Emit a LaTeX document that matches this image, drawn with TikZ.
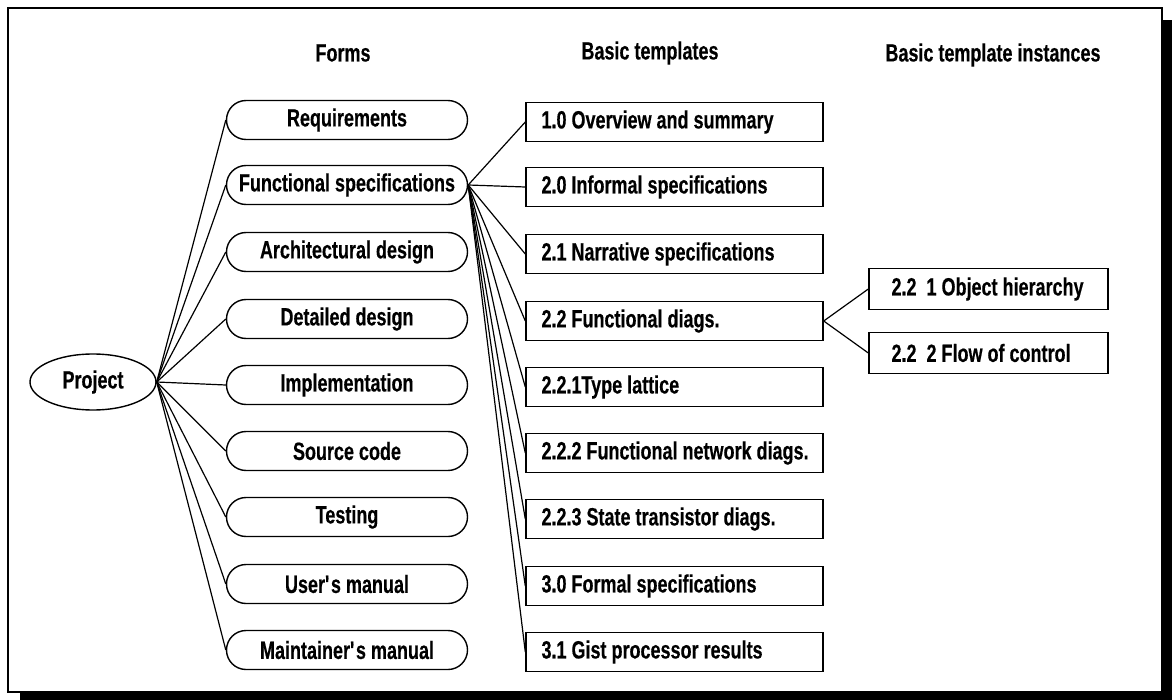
\documentclass[tikz,border=0pt]{standalone}
\usepackage{fontspec}
\setmainfont[FakeStretch=0.72, BoldFeatures={FakeBold=0.3}]{Liberation Sans}
\usepackage{tikz}
\usetikzlibrary{shapes.geometric,shapes.misc}

\tikzset{
	lbl/.style={font=\bfseries\fontsize{12.5}{14}\selectfont},
	form/.style={lbl, draw, rounded rectangle, minimum width=120.5pt, minimum height=19.5pt, inner sep=0pt},
	tmpl/.style={lbl, draw, rectangle, minimum width=148.5pt, minimum height=19.5pt, inner sep=0pt},
	inst/.style={lbl, draw, rectangle, minimum width=119.5pt, minimum height=20.5pt, inner sep=0pt},
	link/.style={line width=0.6pt}
}
\newcommand{\tline}[1]{\makebox[133pt][l]{#1}}
\newcommand{\iline}[1]{\makebox[97pt][l]{#1}}

\begin{document}
\begin{tikzpicture}[x=0.5pt, y=-0.5pt, line width=0.7pt]
				\useasboundingbox (0, 0) rectangle (1172, 700);
				\draw[line width=1pt] (8, 8) rectangle (1162, 692);
				\fill (1162, 20) rectangle (1172, 700);
				\fill (20, 692) rectangle (1172, 700);
				% headings
				\node[lbl] (hforms) at (343, 53) {Forms};
				\node[lbl] (hbasic) at (650, 53) {Basic templates};
				\node[lbl] (hinst) at (993, 55) {Basic template instances};
				% project
				\node[lbl, draw, ellipse, minimum width=63pt, minimum height=28pt, inner sep=0pt] (project) at (93, 382) {Project};
				% forms
				\node[form] (req) at (347, 120) {Requirements};
				\node[form] (func) at (347, 185) {Functional specifications};
				\node[form] (arch) at (347, 252) {Architectural design};
				\node[form] (det) at (347, 319) {Detailed design};
				\node[form] (impl) at (347, 385) {Implementation};
				\node[form] (src) at (347, 451) {Source code};
				\node[form] (test) at (347, 517) {Testing};
				\node[form] (user) at (347, 584) {User\textquotesingle s manual};
				\node[form] (maint) at (347, 650) {Maintainer\textquotesingle s manual};
				% basic templates
				\node[tmpl] (ovw) at (674.5, 122) {\tline{1.0 Overview and summary}};
				\node[tmpl] (inf) at (674.5, 187) {\tline{2.0 Informal specifications}};
				\node[tmpl] (narr) at (674.5, 254) {\tline{2.1 Narrative specifications}};
				\node[tmpl] (fdiag) at (674.5, 321) {\tline{2.2 Functional diags.}};
				\node[tmpl] (lat) at (674.5, 387) {\tline{2.2.1Type lattice}};
				\node[tmpl] (fnet) at (674.5, 453) {\tline{2.2.2 Functional network diags.}};
				\node[tmpl] (stt) at (674.5, 519) {\tline{2.2.3 State transistor diags.}};
				\node[tmpl] (formal) at (674.5, 586) {\tline{3.0 Formal specifications}};
				\node[tmpl] (gist) at (674.5, 652) {\tline{3.1 Gist processor results}};
				% instances
				\node[inst] (obj) at (988.5, 289) {\iline{2.2\ \ 1 Object hierarchy}};
				\node[inst] (flow) at (988.5, 353) {\iline{2.2\ \ 2 Flow of control}};
				% project to forms
				\draw[link] (project.east) -- (req.west);
				\draw[link] (project.east) -- (func.west);
				\draw[link] (project.east) -- (arch.west);
				\draw[link] (project.east) -- (det.west);
				\draw[link] (project.east) -- (impl.west);
				\draw[link] (project.east) -- (src.west);
				\draw[link] (project.east) -- (test.west);
				\draw[link] (project.east) -- (user.west);
				\draw[link] (project.east) -- (maint.west);
				% functional specifications to templates
				\draw[link] (func.east) -- (ovw.west);
				\draw[link] (func.east) -- (inf.west);
				\draw[link] (func.east) -- (narr.west);
				\draw[link] (func.east) -- (fdiag.west);
				\draw[link] (func.east) -- (lat.west);
				\draw[link] (func.east) -- (fnet.west);
				\draw[link] (func.east) -- (stt.west);
				\draw[link] (func.east) -- (formal.west);
				\draw[link] (func.east) -- (gist.west);
				% functional diags to instances
				\draw[link] (fdiag.east) -- (obj.west);
				\draw[link] (fdiag.east) -- (flow.west);
			\end{tikzpicture}
\end{document}
